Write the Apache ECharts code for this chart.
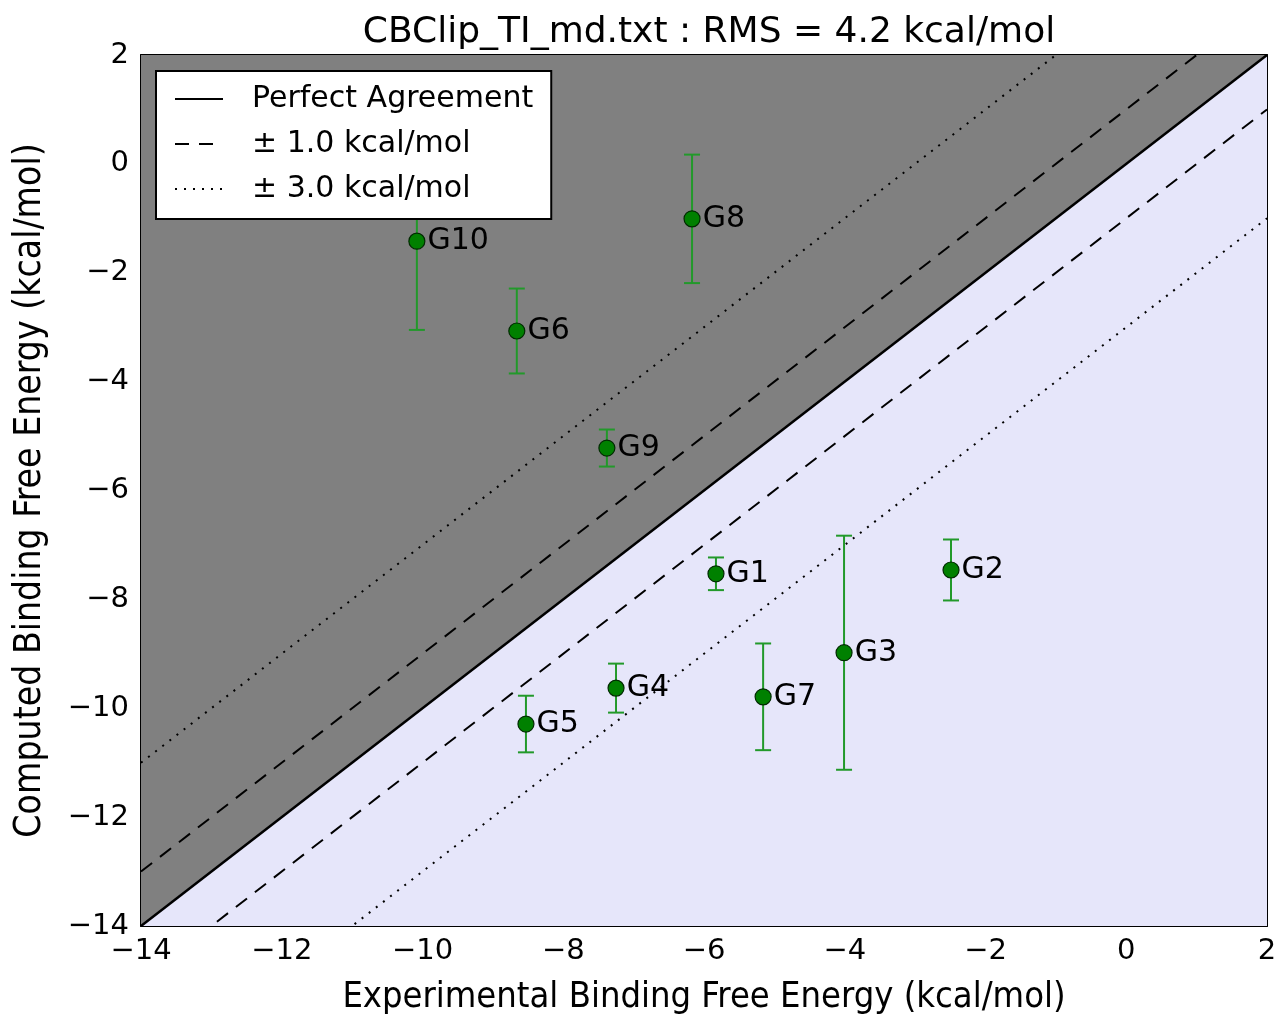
<!DOCTYPE html>
<html>
<head>
<meta charset="utf-8">
<script src="https://cdn.jsdelivr.net/npm/echarts@6/dist/echarts.min.js"></script>
<style>html,body{margin:0;padding:0;background:#fff;}#c{width:1277px;height:1017px;}</style>
</head>
<body>
<div id="c"></div>
<script>
// ---- data ----
const names = ['G1','G2','G3','G4','G5','G6','G7','G8','G9','G10'];
const expVals = [-5.83, -2.49, -4.01, -7.25, -8.53, -8.66, -5.16, -6.17, -7.38, -10.08];
const compVals = [-7.53, -7.46, -8.98, -9.63, -10.29, -3.07, -9.79, -1.01, -5.22, -1.42];
const compErr = [0.30, 0.56, 2.15, 0.45, 0.52, 0.78, 0.98, 1.18, 0.34, 1.63];
const axisMin = -14, axisMax = 2, tickStep = 2;
const bandOffsets = [1, -1, 3, -3];
const title = 'CBClip_TI_md.txt : RMS = 4.2 kcal/mol';

const FONT = 'DejaVu Sans';
const minus = v => String(v).replace('-', '\u2212');

const diag = [[axisMin, axisMin], [axisMax, axisMax]];
const points = names.map((n, i) => ({name: n, value: [expVals[i], compVals[i]]}));
const errData = names.map((n, i) => [expVals[i], compVals[i] - compErr[i], compVals[i] + compErr[i]]);

function offsetLine(o) {
  return [[axisMin, axisMin + o], [axisMax, axisMax + o]];
}

const lineSeries = bandOffsets.map(o => ({
  type: 'line',
  name: Math.abs(o) === 1 ? '\u00b1 1.0 kcal/mol' : '\u00b1 3.0 kcal/mol',
  data: offsetLine(o),
  symbol: 'none',
  color: '#000',
  clip: true,
  silent: true,
  z: 3,
  lineStyle: Math.abs(o) === 1
    ? {color: '#000', width: 2, type: [14, 10]}
    : {color: '#000', width: 2, type: [2, 7]}
}));

const tickCommon = {show: true, inside: true, length: 9, lineStyle: {color: '#000', width: 1.5}};
const axisLineCommon = {show: true, onZero: false, lineStyle: {color: '#000', width: 2}};

const option = {
  animation: false,
  backgroundColor: '#fff',
  title: {
    text: title, left: 704, top: 10, textAlign: 'center',
    textStyle: {fontFamily: FONT, fontSize: 36, fontWeight: 'normal', color: '#000'}
  },
  grid: {left: 141, right: 10, top: 55, bottom: 91, containLabel: false, outerBoundsMode: 'none'},
  legend: {
    left: 156, top: 71, width: 394, orient: 'vertical',
    data: ['Perfect Agreement', '\u00b1 1.0 kcal/mol', '\u00b1 3.0 kcal/mol'],
    backgroundColor: '#fff', borderColor: '#000', borderWidth: 2, borderRadius: 0,
    padding: [13, 18, 15, 18], itemGap: 15, itemWidth: 48, itemHeight: 33,
    itemStyle: {opacity: 0, borderWidth: 0},
    textStyle: {fontFamily: FONT, fontSize: 30, color: '#000', padding: [0, 0, 0, 24]},
    selectedMode: false, z: 10
  },
  xAxis: [{
    type: 'value', min: axisMin, max: axisMax, interval: tickStep, position: 'bottom',
    name: 'Experimental Binding Free Energy (kcal/mol)', nameLocation: 'middle', nameGap: 54,
    nameTextStyle: {fontFamily: 'DejaVu Sans Condensed', fontSize: 36, color: '#000'},
    axisLine: axisLineCommon, axisTick: tickCommon, splitLine: {show: false},
    axisLabel: {fontFamily: FONT, fontSize: 29, color: '#000', margin: 11, formatter: minus}
  }, {
    type: 'value', min: axisMin, max: axisMax, interval: tickStep, position: 'top',
    axisLine: axisLineCommon, axisTick: tickCommon, splitLine: {show: false}, axisLabel: {show: false}
  }],
  yAxis: [{
    type: 'value', min: axisMin, max: axisMax, interval: tickStep, position: 'left',
    name: 'Computed Binding Free Energy (kcal/mol)', nameLocation: 'middle', nameGap: 92,
    nameTextStyle: {fontFamily: 'DejaVu Sans Condensed', fontSize: 37, color: '#000'},
    axisLine: axisLineCommon, axisTick: tickCommon, splitLine: {show: false},
    axisLabel: {fontFamily: FONT, fontSize: 29, color: '#000', margin: 12, formatter: minus}
  }, {
    type: 'value', min: axisMin, max: axisMax, interval: tickStep, position: 'right',
    axisLine: axisLineCommon, axisTick: tickCommon, splitLine: {show: false}, axisLabel: {show: false}
  }],
  series: [
    {
      type: 'line', name: 'below', data: diag, symbol: 'none', silent: true, z: 1,
      lineStyle: {width: 0}, areaStyle: {color: '#e6e6fa', opacity: 1, origin: 'start'}
    },
    {
      type: 'line', name: 'above', data: diag, symbol: 'none', silent: true, z: 1,
      lineStyle: {width: 0}, areaStyle: {color: '#808080', opacity: 1, origin: 'end'}
    },
    {
      type: 'line', name: 'Perfect Agreement', data: diag, symbol: 'none', color: '#000', silent: true, z: 3,
      lineStyle: {color: '#000', width: 2.5, type: 'solid'}
    },
    ...lineSeries,
    {
      type: 'custom', name: 'err', data: errData, z: 4, silent: true,
      renderItem: function (params, api) {
        const x = api.value(0), lo = api.value(1), hi = api.value(2);
        const a = api.coord([x, lo]), b = api.coord([x, hi]);
        const cap = 8;
        const st = {stroke: '#22992a', lineWidth: 2};
        return {type: 'group', children: [
          {type: 'line', shape: {x1: a[0], y1: a[1], x2: b[0], y2: b[1]}, style: st},
          {type: 'line', shape: {x1: a[0] - cap, y1: a[1], x2: a[0] + cap, y2: a[1]}, style: st},
          {type: 'line', shape: {x1: b[0] - cap, y1: b[1], x2: b[0] + cap, y2: b[1]}, style: st}
        ]};
      }
    },
    {
      type: 'scatter', name: 'points', data: points, symbolSize: 16, z: 5, silent: true,
      itemStyle: {color: '#008000', borderColor: '#002a00', borderWidth: 1.2, opacity: 1},
      label: {show: true, position: 'right', distance: 2, formatter: '{b}',
        fontFamily: FONT, fontSize: 30, color: '#000'}
    }
  ]
};

const chart = echarts.init(document.getElementById('c'), null, {renderer: 'canvas'});
chart.setOption(option);
</script>
</body>
</html>
